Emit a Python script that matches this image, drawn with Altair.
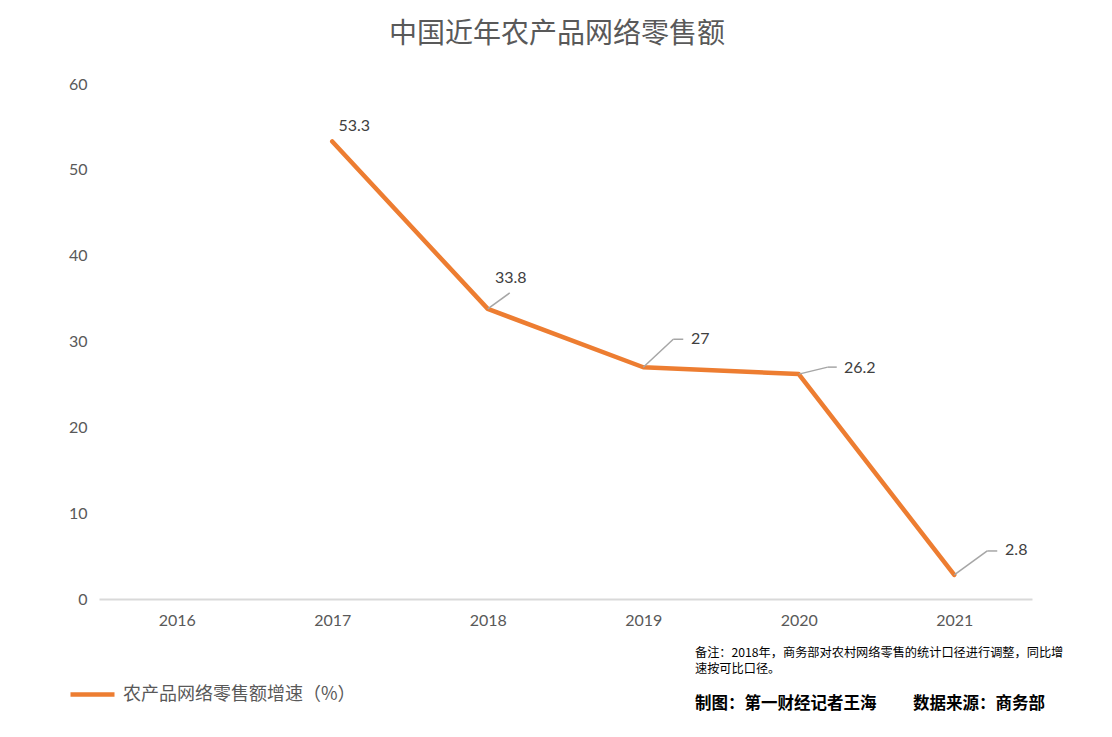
import altair as alt
import pandas as pd

# ---- data ----
years = ["2016", "2017", "2018", "2019", "2020", "2021"]
data_years = ["2017", "2018", "2019", "2020", "2021"]
growth = [53.3, 33.8, 27, 26.2, 2.8]
value_labels = ["53.3", "33.8", "27", "26.2", "2.8"]
series_name = "农产品网络零售额增速（%）"
title_text = "中国近年农产品网络零售额"
note_lines = ["备注：2018年，商务部对农村网络零售的统计口径进行调整，同比增", "速按可比口径。"]
credit_left = ["制图：第一财经记者王海"]
credit_right = ["数据来源：商务部"]
y_ticks = [0, 10, 20, 30, 40, 50, 60]

df = pd.DataFrame({"year": data_years, "growth": growth,
                   "label": value_labels, "series": series_name})

# ---- styling / layout ----
W, H = 933, 515
ORANGE = "#ED7D31"
GRAY_TXT = "#595959"
LEADER = "#A6A6A6"
CJK = "Noto Sans CJK SC"
NUM = "Lato"

# label offsets (dx, dy) and leader geometry per year: (diag end), (horizontal end)
label_style = {
    "2017": dict(dx=22, dy=-16, leader=None),
    "2018": dict(dx=23, dy=-31, leader=((22, -16), None)),
    "2019": dict(dx=57, dy=-28, leader=((30, -28), (40, -28))),
    "2020": dict(dx=61, dy=-6, leader=((29, -7), (38, -7))),
    "2021": dict(dx=62, dy=-25, leader=((33, -24), (43, -24))),
}

x_enc = alt.X(
    "year:O",
    scale=alt.Scale(domain=years, type="point", padding=0.5),
    axis=alt.Axis(title=None, labelAngle=0, ticks=False, grid=False,
                  domainColor="#D9D9D9", domainWidth=2, labelPadding=13,
                  labelFontSize=16, labelColor=GRAY_TXT, labelFont=NUM),
)
y_enc = alt.Y(
    "growth:Q",
    scale=alt.Scale(domain=[0, 60], nice=False),
    axis=alt.Axis(title=None, values=y_ticks, ticks=False, grid=False,
                  domain=False, labelPadding=12, labelFontSize=16,
                  labelColor=GRAY_TXT, labelFont=NUM),
)

base = alt.Chart(df)

line = base.mark_line(strokeWidth=4.5, strokeCap="round", strokeJoin="round").encode(
    x=x_enc,
    y=y_enc,
    color=alt.Color(
        "series:N",
        scale=alt.Scale(range=[ORANGE]),
        legend=alt.Legend(title=None, orient="none", legendX=-31, legendY=586,
                          symbolType="stroke", symbolSize=1936, labelLimit=0,
                          symbolStrokeWidth=4.5, labelFontSize=18,
                          labelFont=CJK, labelColor=GRAY_TXT, labelOffset=6),
    ),
)

layers = [line]
for yr, st in label_style.items():
    sub = base.transform_filter(alt.datum.year == yr)
    layers.append(
        sub.mark_text(dx=st["dx"], dy=st["dy"], fontSize=16, font=NUM,
                      color="#404040", align="center", baseline="middle").encode(
            x=x_enc, y=y_enc, text="label:N")
    )
    if st["leader"]:
        (d1x, d1y), hz = st["leader"]
        layers.append(
            sub.mark_rule(color=LEADER, strokeWidth=1.5, x2Offset=d1x, y2Offset=d1y).encode(
                x=x_enc, y=y_enc, x2="year:O", y2="growth:Q")
        )
        if hz:
            layers.append(
                sub.mark_rule(color=LEADER, strokeWidth=1.5, xOffset=d1x, yOffset=d1y,
                              x2Offset=hz[0], y2Offset=hz[1]).encode(
                    x=x_enc, y=y_enc, x2="year:O", y2="growth:Q")
            )


def text_layer(txt, px, py, **kw):
    return alt.Chart(pd.DataFrame({"t": [txt]})).mark_text(
        align="left", baseline="middle", **kw
    ).encode(text="t:N", x=alt.value(px), y=alt.value(py))


title = alt.Chart(pd.DataFrame({"t": [title_text]})).mark_text(
    fontSize=28, font=CJK, color=GRAY_TXT, align="center", baseline="middle"
).encode(text="t:N", x=alt.value(458), y=alt.value(-49))

note1 = text_layer(note_lines[0], 596, 569, fontSize=12.2, font=CJK, color="#000000")
note2 = text_layer(note_lines[1], 596, 585, fontSize=12.2, font=CJK, color="#000000")
cred_l = text_layer(credit_left[0], 596, 620, fontSize=16.5, font=CJK, fontWeight="bold", color="#000000")
cred_r = text_layer(credit_right[0], 814, 620, fontSize=16.5, font=CJK, fontWeight="bold", color="#000000")

chart = alt.layer(*layers, title, note1, note2, cred_l, cred_r).properties(
    width=W, height=H,
    autosize=alt.AutoSizeParams(type="none"),
    padding={"left": 91, "top": 76, "right": 64, "bottom": 128},
    background="white",
).configure_view(strokeWidth=0)

chart.save("out.html", embed_options={"renderer": "svg", "actions": False})
